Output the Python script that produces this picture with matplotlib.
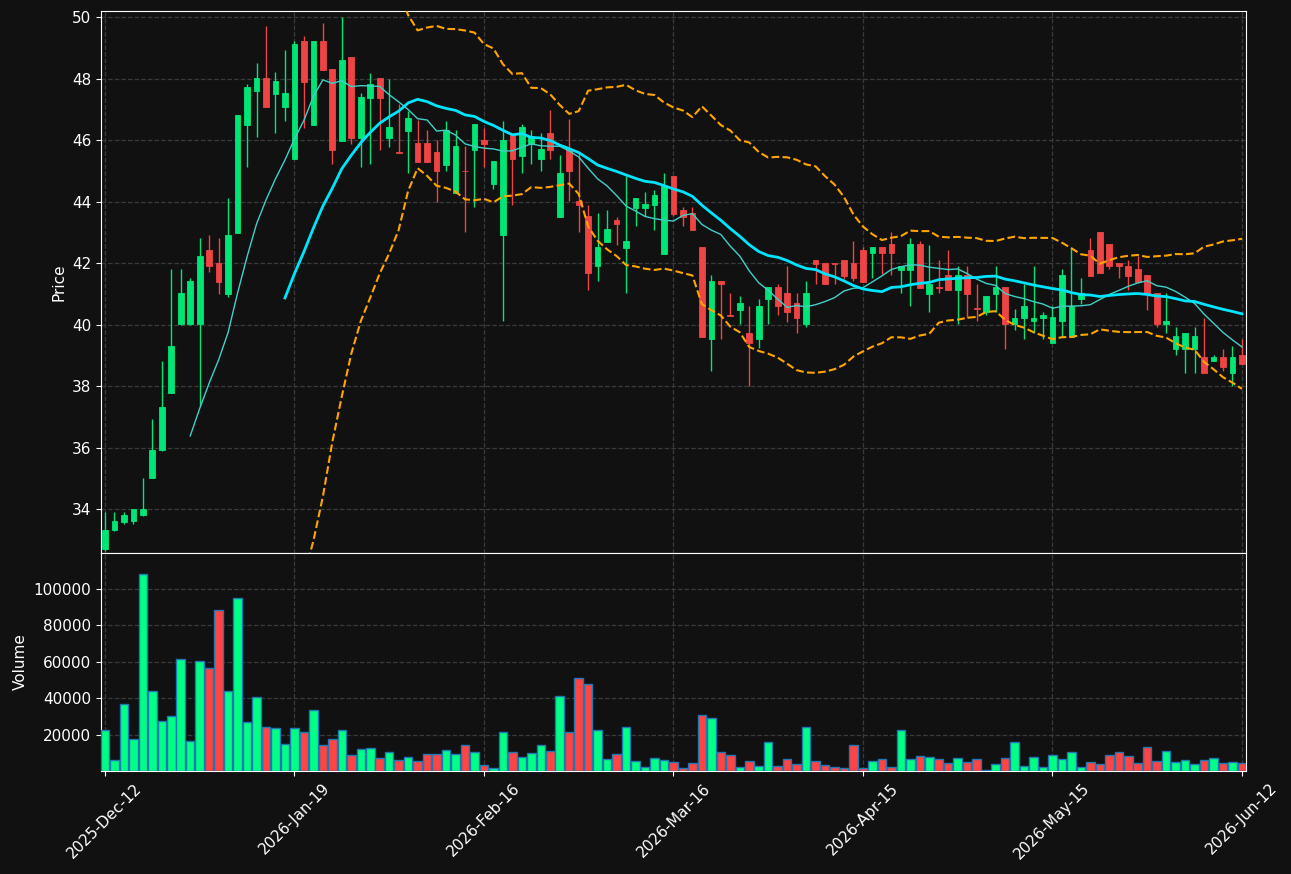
import numpy as np
import pandas as pd
import matplotlib
matplotlib.use("Agg")
import matplotlib.pyplot as plt

# OHLCV (one row per session)
opens = [32.69, 33.31, 33.59, 33.60, 33.80, 35.00, 35.91, 37.79, 40.01, 40.01,
         40.01, 42.43, 42.01, 41.00, 42.99, 46.50, 47.61, 48.01, 47.50, 47.09,
         45.39, 49.21, 46.50, 49.21, 48.31, 45.98, 48.70, 46.07, 47.38, 48.01,
         46.08, 45.62, 46.31, 45.90, 45.90, 45.61, 45.19, 44.28, 45.01, 45.68,
         46.00, 44.58, 42.90, 46.19, 45.49, 45.88, 45.39, 46.23, 43.51, 45.70,
         44.03, 43.53, 41.89, 42.69, 43.41, 42.49, 43.79, 43.79, 43.90, 42.31,
         44.83, 43.73, 43.62, 42.52, 39.52, 41.42, 40.31, 40.49, 39.74, 39.52,
         40.82, 41.23, 41.03, 40.71, 40.01, 42.11, 42.01, 41.99, 42.11, 42.01,
         42.43, 42.32, 42.52, 42.63, 41.79, 41.79, 42.63, 41.01, 41.21, 41.61,
         41.11, 41.61, 40.55, 40.40, 41.01, 41.23, 40.01, 40.20, 40.10, 40.20,
         39.39, 40.10, 39.61, 40.82, 42.43, 43.00, 42.63, 42.01, 41.89, 41.81,
         41.62, 41.02, 40.01, 39.22, 39.22, 39.22, 38.93, 38.80, 38.93, 38.41,
         39.01]
highs = [33.91, 33.91, 33.91, 34.00, 35.02, 36.92, 38.80, 41.80, 41.80, 41.51,
         42.81, 42.91, 42.81, 44.11, 46.82, 47.83, 48.51, 49.71, 48.20, 48.92,
         49.21, 49.40, 49.21, 49.80, 48.31, 50.00, 48.70, 47.52, 48.19, 48.01,
         48.00, 47.18, 46.95, 46.67, 46.32, 45.99, 46.61, 46.32, 45.80, 46.52,
         46.39, 45.33, 46.61, 46.19, 46.52, 46.33, 46.22, 46.99, 45.51, 46.70,
         45.60, 43.90, 43.62, 43.72, 43.51, 44.83, 44.11, 44.30, 44.39, 44.92,
         44.83, 43.82, 43.82, 42.52, 41.61, 41.42, 41.02, 40.93, 40.61, 40.83,
         41.23, 41.33, 41.89, 41.02, 41.42, 42.11, 42.01, 42.00, 42.11, 42.72,
         42.51, 42.52, 42.52, 43.00, 41.89, 42.81, 42.71, 42.60, 42.10, 42.43,
         41.89, 41.89, 41.31, 40.93, 41.89, 41.23, 40.51, 41.31, 41.89, 40.40,
         40.59, 41.81, 42.49, 41.51, 42.81, 43.00, 42.63, 42.01, 42.10, 42.23,
         41.62, 41.02, 41.02, 39.92, 39.74, 39.92, 40.21, 39.01, 39.22, 39.30,
         39.52]
lows = [32.65, 33.30, 33.51, 33.51, 33.78, 35.00, 35.90, 37.79, 40.00, 40.00,
        37.35, 41.70, 41.01, 40.91, 42.99, 45.11, 46.09, 47.09, 46.22, 46.61,
        45.39, 46.41, 46.50, 48.28, 45.21, 45.98, 45.89, 45.11, 45.21, 45.69,
        45.79, 45.58, 44.92, 45.29, 45.29, 44.00, 45.01, 44.28, 43.00, 43.81,
        45.14, 44.40, 40.11, 43.90, 44.92, 45.21, 45.01, 45.39, 43.51, 44.02,
        43.00, 41.12, 41.41, 42.69, 42.60, 41.02, 43.20, 43.52, 43.09, 42.31,
        43.54, 43.20, 43.09, 39.61, 38.50, 39.52, 40.29, 40.01, 38.00, 39.25,
        40.01, 40.31, 40.09, 39.72, 39.93, 41.31, 41.31, 41.31, 41.47, 41.42,
        41.40, 41.51, 41.64, 41.61, 41.02, 40.61, 41.20, 40.40, 41.02, 41.11,
        40.01, 40.20, 40.12, 40.31, 40.40, 39.22, 39.81, 39.52, 39.72, 39.52,
        39.39, 39.61, 39.61, 40.68, 41.59, 41.68, 41.81, 41.50, 41.12, 41.38,
        40.49, 39.92, 39.72, 39.01, 38.41, 38.41, 38.41, 38.80, 38.50, 38.00,
        38.71]
closes = [33.32, 33.62, 33.82, 34.00, 34.00, 35.93, 37.33, 39.31, 41.03, 41.42,
          42.23, 41.89, 41.40, 42.92, 46.82, 47.72, 48.01, 47.09, 47.92, 47.53,
          49.12, 47.90, 49.21, 48.28, 45.69, 48.60, 46.07, 47.40, 47.82, 47.38,
          46.42, 45.58, 46.71, 45.29, 45.29, 45.00, 46.34, 45.81, 44.98, 46.52,
          45.87, 45.33, 46.00, 45.39, 46.42, 46.13, 45.71, 45.69, 44.93, 45.01,
          43.90, 41.68, 42.52, 43.11, 43.28, 42.72, 44.11, 43.91, 44.22, 44.52,
          43.61, 43.51, 43.09, 39.61, 41.42, 41.31, 40.29, 40.71, 39.41, 40.61,
          41.23, 40.61, 40.40, 40.20, 41.03, 41.98, 41.31, 41.97, 41.59, 41.50,
          41.40, 42.52, 42.32, 42.32, 41.89, 42.63, 41.20, 41.31, 41.19, 41.11,
          41.61, 41.01, 40.52, 40.93, 41.23, 40.01, 40.22, 40.61, 40.22, 40.31,
          40.26, 41.62, 40.61, 41.02, 41.59, 41.68, 41.89, 41.89, 41.59, 41.38,
          40.99, 40.01, 40.12, 39.63, 39.74, 39.63, 38.41, 38.93, 38.61, 38.93,
          38.71]
volumes = [22640, 6210, 36880, 17710, 108100, 44000, 27570, 30310, 61540, 16620,
           60440, 56610, 88380, 44000, 94950, 27020, 40720, 24290, 23740, 14970,
           23740, 21550, 33600, 14430, 17710, 22640, 8950, 12230, 12780, 7300,
           10590, 6210, 7850, 5660, 9500, 9500, 11690, 9500, 14430, 10590,
           3470, 1830, 21550, 10590, 7850, 10040, 14430, 11140, 41270, 21550,
           51130, 47840, 22640, 6760, 9500, 24290, 5660, 2370, 7300, 6210,
           5110, 1830, 4570, 30860, 29220, 10590, 8950, 2370, 5660, 2920,
           16070, 2920, 6760, 4020, 24290, 5660, 3470, 2370, 1830, 14430,
           1830, 5660, 6760, 2370, 22640, 6760, 8400, 7850, 6760, 4570,
           7300, 5110, 6760, 730, 4020, 7300, 16070, 2920, 7850, 2370,
           8950, 6760, 10590, 2370, 5110, 4020, 8950, 10590, 8400, 4570,
           13330, 5660, 11140, 5110, 6210, 4020, 6210, 7300, 4570, 5110,
           4570]
tick_labels = ["2025-Dec-12", "2026-Jan-19", "2026-Feb-16", "2026-Mar-16",
               "2026-Apr-15", "2026-May-15", "2026-Jun-12"]

bg = "#111111"
up_c, down_c = "#00e676", "#ef4444"
vol_up, vol_down = "#00ff85", "#ff4444"

df = pd.DataFrame({"o": opens, "h": highs, "l": lows, "c": closes, "v": volumes})
x = np.arange(len(df))
ma10 = df["c"].rolling(10).mean()
ma20 = df["c"].rolling(20).mean()
std20 = df["c"].rolling(20).std()
upper = ma20 + 2 * std20
lower = ma20 - 2 * std20

is_up = df["c"] >= df["o"]
ccol = np.where(is_up, up_c, down_c)
vcol = np.where(is_up, vol_up, vol_down)

fig = plt.figure(figsize=(12.91, 8.74), dpi=100, facecolor=bg)
ax = fig.add_axes([0.0782, 0.3673, 0.8869, 0.6201])
axv = fig.add_axes([0.0782, 0.1178, 0.8869, 0.2495], sharex=ax)

for a in (ax, axv):
    a.set_facecolor(bg)
    for s in a.spines.values():
        s.set_color("white")
    a.tick_params(colors="white", labelsize=11)
    a.grid(True, color="#3a3a3a", linestyle="--", linewidth=0.9)
    a.set_axisbelow(True)

# candles
ax.vlines(x, df["l"], df["h"], colors=ccol, linewidth=1, zorder=2)
ax.bar(x, (df["c"] - df["o"]).abs(), bottom=np.minimum(df["o"], df["c"]),
       width=0.6, color=ccol, edgecolor=ccol, linewidth=0.6, zorder=3)

ax.plot(x, ma10, color="#40d0c8", linewidth=1, zorder=4)
ax.plot(x, ma20, color="#00e5ff", linewidth=2, zorder=4)
ax.plot(x, upper, color="orange", linestyle="--", linewidth=1.5, zorder=4)
ax.plot(x, lower, color="orange", linestyle="--", linewidth=1.5, zorder=4)

ax.set_ylim(32.57, 50.2)
ax.set_yticks(np.arange(34, 51, 2))
ax.set_ylabel("Price", color="white", fontsize=11)
ax.tick_params(axis="x", labelbottom=False, length=0)

# volume
axv.bar(x, df["v"], width=0.9, color=vcol, edgecolor="#1f77b4", linewidth=1, zorder=3)
axv.set_ylim(0, 119500)
axv.set_yticks([20000, 40000, 60000, 80000, 100000])
axv.set_yticklabels(["20000", "40000", "60000", "80000", "100000"])
axv.set_ylabel("Volume", color="white", fontsize=11)

ticks = np.arange(0, len(df), 20)
axv.set_xticks(ticks)
axv.set_xticklabels(tick_labels, rotation=45, ha="center")
axv.set_xlim(-0.42, len(df) - 1 + 0.42)

fig.savefig("out.png", dpi=100, facecolor=bg)
